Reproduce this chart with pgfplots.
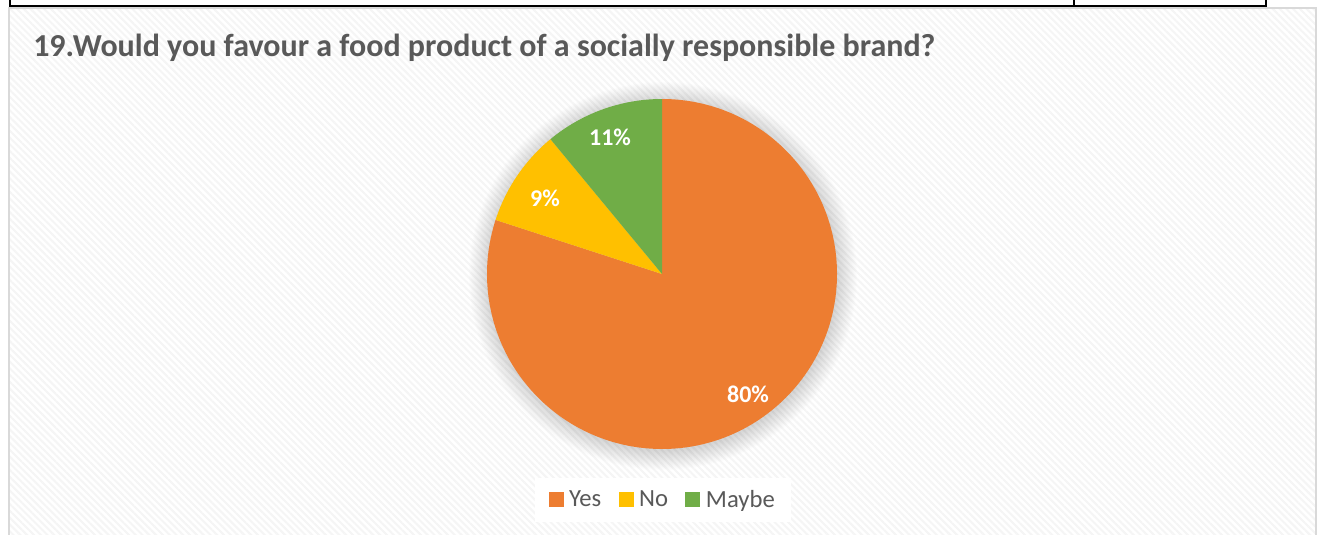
\documentclass[border=0pt]{standalone}
\usepackage{pgfplots}
\pgfplotsset{compat=1.18}
\usepackage{pgfplotstable}
\usepackage{fontspec}
\setmainfont{Carlito}
\usetikzlibrary{patterns.meta}
\definecolor{cYes}{HTML}{ED7D31}
\definecolor{cNo}{HTML}{FFC000}
\definecolor{cMaybe}{HTML}{70AD47}
\definecolor{txt}{HTML}{595959}
\definecolor{frame}{HTML}{D9D9D9}

\pgfplotstableread{
label value
Yes 80
No 9
Maybe 11
}\piedata
\pgfplotstablegetelem{0}{value}\of\piedata \let\vYes\pgfplotsretval
\pgfplotstablegetelem{1}{value}\of\piedata \let\vNo\pgfplotsretval
\pgfplotstablegetelem{2}{value}\of\piedata \let\vMaybe\pgfplotsretval
\pgfmathsetmacro\aA{90}
\pgfmathsetmacro\aB{\aA-3.6*\vYes}
\pgfmathsetmacro\aC{\aB-3.6*\vNo}
\pgfmathsetmacro\aD{\aC-3.6*\vMaybe}
\def\R{131.25pt}

\begin{document}
\begin{tikzpicture}
\useasboundingbox (0,0) rectangle (987.75pt,401.25pt);
\begin{axis}[at={(0,0)}, anchor=south west, scale only axis,
  width=987.75pt, height=401.25pt,
  xmin=0, xmax=1317, ymin=0, ymax=535, y dir=reverse,
  axis line style={draw=none}, ticks=none, clip=false,
  legend columns=3,
  legend style={at={(axis cs:663,500)}, anchor=center, draw=none, fill=white,
    font=\fontsize{18.5}{21}\selectfont, text=txt, inner xsep=10pt, inner ysep=7pt,
    /tikz/every even column/.append style={column sep=11pt}},
  legend cell align=left]
% chart area
\fill[white] (axis cs:9,8) rectangle (axis cs:1316,545);
\fill[pattern={Lines[angle=-45,distance=3.6pt,line width=1.5pt]}, pattern color=black!4] (axis cs:9,8) rectangle (axis cs:1316,545);
\draw[frame, line width=1.2pt] (axis cs:9,8) rectangle (axis cs:1316,545);
% table lines on top
\draw[black, line width=1.5pt] (axis cs:10,-2) -- (axis cs:10,6) -- (axis cs:1266,6) -- (axis cs:1266,-2);
\draw[black, line width=1.5pt] (axis cs:1074,-2) -- (axis cs:1074,6);
% title
\node[anchor=base west, inner sep=0pt, text=txt, font=\bfseries\fontsize{24}{28}\selectfont] at (axis cs:33,57) {19.Would you favour a food product of a socially responsible brand?};
% shadow glow
\pgfplotsinvokeforeach{1,...,20}{\fill[black, opacity=0.008] (axis cs:663,276) circle[radius={(174+#1)*0.75pt}];}
% pie
\fill[cYes] (axis cs:662,274) -- ++(\aA:\R) arc[start angle=\aA, end angle=\aB, radius=\R] -- cycle;
\fill[cNo] (axis cs:662,274) -- ++(\aB:\R) arc[start angle=\aB, end angle=\aC, radius=\R] -- cycle;
\fill[cMaybe] (axis cs:662,274) -- ++(\aC:\R) arc[start angle=\aC, end angle=\aD, radius=\R] -- cycle;
% data labels
\node[text=white, font=\bfseries\fontsize{18}{21}\selectfont] at (axis cs:748,394) {\vYes\%};
\node[text=white, font=\bfseries\fontsize{18}{21}\selectfont] at (axis cs:545,198) {\vNo\%};
\node[text=white, font=\bfseries\fontsize{18}{21}\selectfont] at (axis cs:610,137) {\vMaybe\%};
% legend
\addlegendimage{legend image code/.code={\fill[cYes] (0pt,-5pt) rectangle (10.5pt,5.5pt); \path (13pt,0pt);}}
\addlegendentry{Yes}
\addlegendimage{legend image code/.code={\fill[cNo] (0pt,-5pt) rectangle (10.5pt,5.5pt); \path (13pt,0pt);}}
\addlegendentry{No}
\addlegendimage{legend image code/.code={\fill[cMaybe] (0pt,-5pt) rectangle (10.5pt,5.5pt); \path (13pt,0pt);}}
\addlegendentry{Maybe}
\end{axis}
\end{tikzpicture}
\end{document}
